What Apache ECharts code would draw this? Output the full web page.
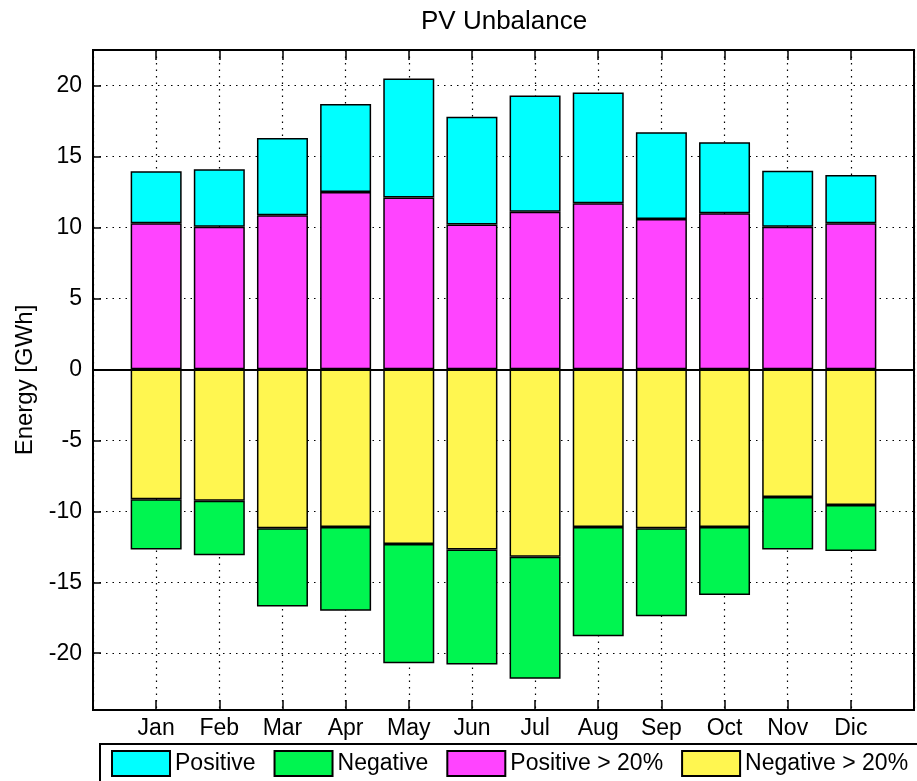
<!DOCTYPE html>
<html>
<head>
<meta charset="utf-8">
<title>PV Unbalance</title>
<script src="https://cdn.jsdelivr.net/npm/echarts@6/dist/echarts.min.js"></script>
<style>
  html, body { margin: 0; padding: 0; background: #fff; }
  #chart { width: 917px; height: 781px; }
</style>
</head>
<body>
<div id="chart"></div>
<script>
// Monthly PV energy unbalance, GWh
const months = ['Jan', 'Feb', 'Mar', 'Apr', 'May', 'Jun', 'Jul', 'Aug', 'Sep', 'Oct', 'Nov', 'Dic'];

// stacked segments: ">20%" parts sit on the zero line, the rest on top of them
const positiveOver20 = [10.3, 10.05, 10.85, 12.5, 12.1, 10.2, 11.1, 11.7, 10.6, 11.0, 10.05, 10.3];
const positive       = [3.65, 4.05, 5.45, 6.2, 8.4, 7.6, 8.2, 7.8, 6.1, 5.0, 3.95, 3.4];
const negativeOver20 = [-9.15, -9.25, -11.2, -11.1, -12.3, -12.7, -13.2, -11.1, -11.2, -11.1, -9.0, -9.55];
const negative       = [-3.55, -3.85, -5.5, -5.9, -8.4, -8.1, -8.6, -7.7, -6.2, -4.8, -3.7, -3.25];

const yTicks = [-20, -15, -10, -5, 0, 5, 10, 15, 20];

const FONT = "'Liberation Sans', Arial, Helvetica, sans-serif";

// empty slot at each end so the months sit one step in from the frame
const xCats = [''].concat(months, ['']);
function padded(values) {
  return [null].concat(values, [null]);
}

const dotted = { color: '#000', width: 1.2, type: [1.5, 5] };

function barSeries(name, values, color) {
  return {
    type: 'bar',
    name: name,
    stack: 'energy',
    barWidth: 51,
    xAxisIndex: 0,
    yAxisIndex: 0,
    data: padded(values),
    itemStyle: { color: color, borderColor: '#000', borderWidth: 1.5 }
  };
}

const chart = echarts.init(document.getElementById('chart'), null, { renderer: 'canvas' });

const series = [
  barSeries('Positive > 20%', positiveOver20, '#ff44ff'),
  barSeries('Positive', positive, '#00ffff'),
  barSeries('Negative > 20%', negativeOver20, '#fff650'),
  barSeries('Negative', negative, '#00f550')
];

// solid baseline at zero
series[3].markLine = {
  silent: true,
  symbol: 'none',
  label: { show: false },
  lineStyle: { color: '#000', width: 2, type: 'solid' },
  data: [{ yAxis: 0 }]
};

const catAxis = {
  type: 'category',
  data: xCats,
  boundaryGap: false,
  axisLine: { show: false, onZero: false },
  axisTick: { show: true, inside: true, length: 10, lineStyle: { color: '#000', width: 1.5 } }
};

chart.setOption({
  animation: false,
  backgroundColor: '#fff',
  textStyle: { fontFamily: FONT },
  title: {
    text: 'PV Unbalance',
    left: 421,
    top: 9,
    padding: 0,
    textStyle: { fontFamily: FONT, fontSize: 26, fontWeight: 'normal', color: '#000' }
  },
  grid: {
    left: 93,
    top: 50,
    width: 837,
    height: 660,
    show: true,
    borderColor: '#000',
    borderWidth: 2,
    backgroundColor: 'transparent',
    containLabel: false
  },
  legend: {
    data: ['Positive', 'Negative', 'Positive > 20%', 'Negative > 20%'],
    left: 100,
    top: 744,
    width: 900,
    orient: 'horizontal',
    padding: [6, 10, 8, 11],
    itemWidth: 58,
    itemHeight: 25,
    itemGap: 18,
    icon: 'rect',
    borderColor: '#000',
    borderWidth: 2,
    selectedMode: false,
    textStyle: { fontFamily: FONT, fontSize: 23, color: '#000', padding: [6, 0, 0, 0] }
  },
  xAxis: [
    Object.assign({}, catAxis, {
      position: 'bottom',
      axisLabel: { interval: 0, fontFamily: FONT, fontSize: 23, color: '#000', margin: 7 },
      splitLine: { show: true, interval: 0, lineStyle: dotted }
    }),
    Object.assign({}, catAxis, {
      position: 'top',
      axisLabel: { show: false },
      splitLine: { show: false }
    })
  ],
  yAxis: [
    {
      type: 'value',
      min: -24,
      max: 22.5,
      name: 'Energy [GWh]',
      nameLocation: 'middle',
      nameGap: 55,
      nameTextStyle: { fontFamily: FONT, fontSize: 24, color: '#000' },
      axisLine: { show: false, onZero: false },
      axisTick: { show: true, inside: true, length: 8, customValues: yTicks,
                  lineStyle: { color: '#000', width: 1.5 } },
      axisLabel: {
        customValues: yTicks,
        fontFamily: FONT, fontSize: 23, color: '#000', margin: 11
      },
      splitLine: { show: true, lineStyle: dotted }
    }
  ],
  series: series
});
</script>
</body>
</html>
